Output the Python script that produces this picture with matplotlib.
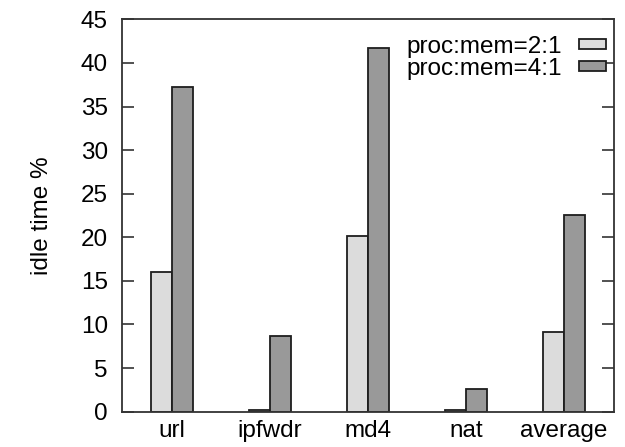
import matplotlib
matplotlib.use("Agg")
import matplotlib.pyplot as plt
import numpy as np

plt.rcParams['font.family'] = ['Liberation Sans', 'DejaVu Sans']

benchmarks = ["url", "ipfwdr", "md4", "nat", "average"]
ratio_2_1 = [16.0, 0.2, 20.1, 0.2, 9.1]
ratio_4_1 = [37.2, 8.7, 41.7, 2.6, 22.6]
series_labels = ["proc:mem=2:1", "proc:mem=4:1"]
yticks = [0, 5, 10, 15, 20, 25, 30, 35, 40, 45]

fs = 17.5

fig = plt.figure(figsize=(6.25, 4.47), dpi=100)
ax = fig.add_axes([0.1947, 0.079, 0.7882, 0.8778])

x = np.arange(len(benchmarks))
w = 0.21
edge = "#1e1e1e"
ax.bar(x - w / 2, ratio_2_1, w, color="#dcdcdc", edgecolor=edge, linewidth=1.3,
       label=series_labels[0], zorder=2)
ax.bar(x + w / 2, ratio_4_1, w, color="#999999", edgecolor=edge, linewidth=1.3,
       label=series_labels[1], zorder=2)

ax.set_xlim(-0.514, 4.514)
ax.set_ylim(0, 45)
ax.set_yticks(yticks)
ax.set_xticks(x)
ax.set_xticklabels(benchmarks)
ax.tick_params(axis="y", direction="in", length=8.6, width=1.2, color="#333333",
               labelsize=fs, right=True, pad=10)
ax.tick_params(axis="x", length=0, labelsize=fs, pad=6)
for s in ax.spines.values():
    s.set_linewidth(1.3)
    s.set_color("#333333")

ax.set_ylabel("idle time %", fontsize=fs, labelpad=20)

leg = ax.legend(loc="upper right", bbox_to_anchor=(0.983, 0.958), frameon=False,
                fontsize=fs, markerfirst=False,
                handlelength=1.1, handleheight=0.31, handletextpad=0.7,
                labelspacing=0.0, borderpad=0.0, borderaxespad=0.0)

fig.savefig("out.png", dpi=100)
